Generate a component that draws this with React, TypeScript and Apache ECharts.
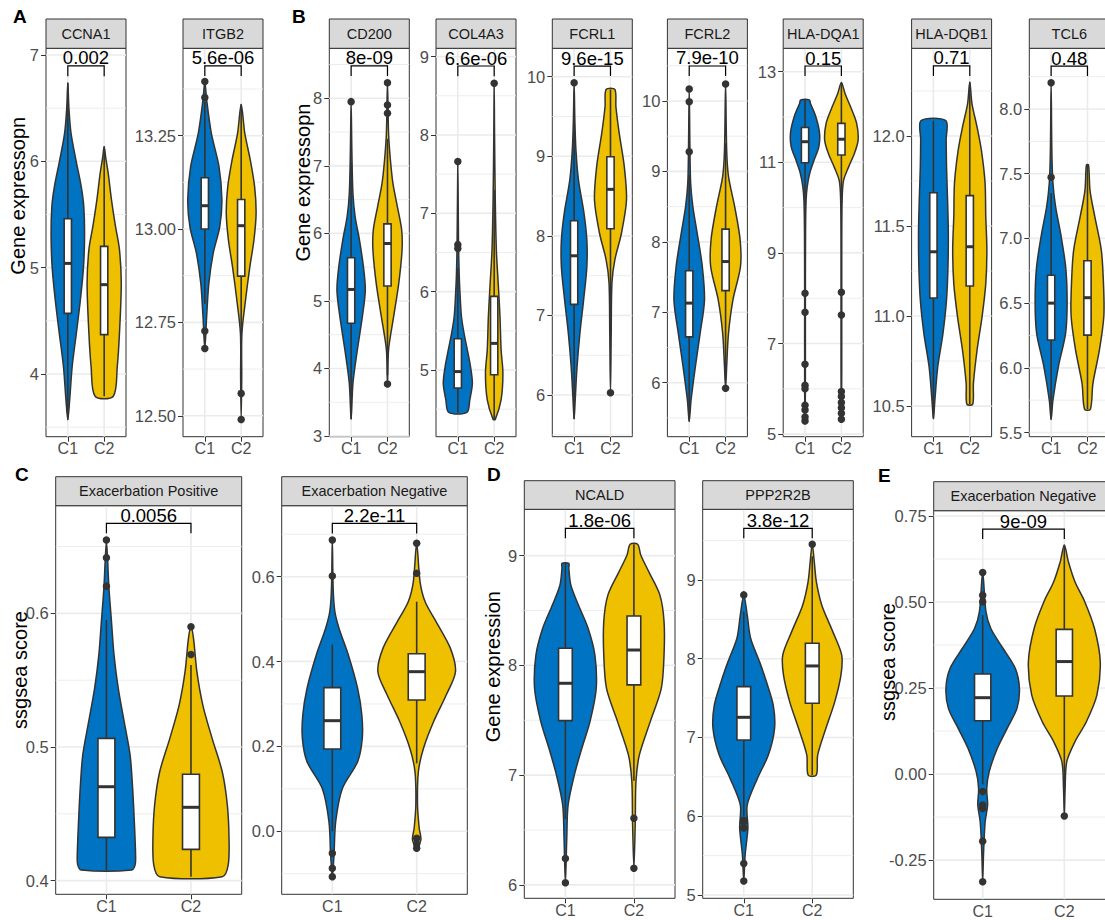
import React, { useEffect, useRef } from "react";
import * as echarts from "echarts";

const FONT = "'Liberation Sans', Arial, Helvetica, sans-serif";
const categories = ["C1", "C2"];
const groupColors = ["#0073C2", "#EFC000"];

const panelTitles = ["CCNA1", "ITGB2", "CD200", "COL4A3", "FCRL1", "FCRL2", "HLA-DQA1", "HLA-DQB1", "TCL6",
  "Exacerbation Positive", "Exacerbation Negative", "NCALD", "PPP2R2B", "Exacerbation Negative"];
const pLabels = ["0.002", "5.6e-06", "8e-09", "6.6e-06", "9.6e-15", "7.9e-10", "0.15", "0.71", "0.48",
  "0.0056", "2.2e-11", "1.8e-06", "3.8e-12", "9e-09"];
// [bracket level, tip end]
const bracketLevels = [[6.897, 6.8], [13.437, 13.41], [8.479, 8.33], [8.88, 8.75], [10.134, 10.01], [10.497, 10.355],
  [13.126, 12.905], [12.389, 12.333], [8.332, 8.255], [0.6673, 0.66], [0.7257, 0.702], [9.249, 9.158], [9.656, 9.529], [0.712, 0.683]];
const yRanges = [[3.41, 7.063], [12.444, 13.484], [2.99, 8.74], [4.149, 9.106], [5.477, 10.357], [5.233, 10.748],
  [4.943, 13.517], [10.33, 12.487], [5.468, 8.469], [0.3898, 0.6806], [-0.1486, 0.7673], [5.878, 9.422], [4.958, 9.897], [-0.364, 0.7655]];
const yTickLabels = [
  ["4", "5", "6", "7"], ["12.50", "12.75", "13.00", "13.25"], ["3", "4", "5", "6", "7", "8"], ["5", "6", "7", "8", "9"],
  ["6", "7", "8", "9", "10"], ["6", "7", "8", "9", "10"], ["5", "7", "9", "11", "13"], ["10.5", "11.0", "11.5", "12.0"],
  ["5.5", "6.0", "6.5", "7.0", "7.5", "8.0"], ["0.4", "0.5", "0.6"], ["0.0", "0.2", "0.4", "0.6"], ["6", "7", "8", "9"],
  ["5", "6", "7", "8", "9"], ["-0.25", "0.00", "0.25", "0.50", "0.75"]];

// box stats: [lower whisker, Q1, median, Q3, upper whisker]
const boxC1 = [[3.57, 4.57, 5.04, 5.46, 6.74], [12.8, 13.0, 13.0625, 13.1375, 13.34], [3.25, 4.67, 5.17, 5.64, 7.05],
  [4.46, 4.77, 4.98, 5.4, 6.3], [5.7, 7.14, 7.75, 8.19, 9.6], [5.45, 6.65, 7.13, 7.59, 8.95], [9.9, 10.99, 11.455, 11.77, 12.375],
  [10.43, 11.1, 11.357, 11.685, 12.085], [5.6, 6.215, 6.5, 6.715, 7.35], [0.408, 0.4324, 0.4703, 0.5065, 0.595],
  [0.0, 0.194, 0.2606, 0.3384, 0.44], [6.6, 7.497, 7.837, 8.156, 8.93], [6.0, 6.968, 7.256, 7.645, 8.6], [-0.03, 0.155, 0.222, 0.2907, 0.462]];
const boxC2 = [[3.79, 4.37, 4.84, 5.2, 6.14], [12.6, 12.874, 13.009, 13.079, 13.334], [3.9, 5.22, 5.85, 6.14, 7.4],
  [4.37, 4.94, 5.34, 5.94, 7.3], [6.8, 8.09, 8.585, 8.995, 9.84], [6.05, 7.307, 7.72, 8.18, 9.4], [10.1, 11.16, 11.51, 11.86, 12.76],
  [10.51, 11.167, 11.385, 11.669, 12.3], [5.68, 6.253, 6.542, 6.828, 7.567], [0.403, 0.4234, 0.4549, 0.4796, 0.5613],
  [0.16, 0.3093, 0.3761, 0.4185, 0.541], [6.95, 7.822, 8.14, 8.45, 9.103], [6.524, 7.434, 7.908, 8.196, 9.3], [-0.05, 0.227, 0.327, 0.4205, 0.666]];

const outliersC1 = [[], [13.395, 13.352, 12.727, 12.68], [7.95], [7.66, 6.6, 6.55], [9.925], [10.17, 9.99, 9.28],
  [8.11, 7.69, 6.54, 6.08, 6.0, 5.64, 5.53, 5.38, 5.29], [], [8.203, 7.472], [0.6549, 0.6416, 0.6204],
  [0.6864, 0.6016, -0.052, -0.087, -0.107], [6.24, 6.02], [8.81, 5.95, 5.93, 5.85, 5.4, 5.178],
  [0.586, 0.52, 0.501, -0.051, -0.09, -0.1, -0.195, -0.313]];
const outliersC2 = [[], [12.56, 12.49], [8.23, 7.9, 7.78, 3.77], [8.66], [6.03], [10.24, 5.92],
  [8.13, 7.63, 5.94, 5.83, 5.7, 5.58, 5.46, 5.33], [], [], [0.59, 0.5693], [0.6786, 0.6079, -0.0165, -0.03, -0.04],
  [6.607, 6.152], [9.453], [-0.122]];

// violin outlines: [value, half width in category units]
const violinC1 = [
  [[3.57, 0], [3.75, 0.05], [4.07, 0.12], [4.37, 0.23], [4.68, 0.34], [5.0, 0.43], [5.3, 0.46], [5.57, 0.44], [5.76, 0.37], [6.0, 0.23], [6.26, 0.09], [6.5, 0.03], [6.74, 0]],
  [[12.68, 0], [12.765, 0.05], [12.854, 0.11], [12.935, 0.23], [13.006, 0.41], [13.078, 0.47], [13.167, 0.39], [13.256, 0.18], [13.346, 0.05], [13.395, 0]],
  [[3.25, 0], [3.78, 0.05], [4.27, 0.17], [4.77, 0.31], [5.16, 0.39], [5.5, 0.34], [5.9, 0.23], [6.25, 0.11], [6.59, 0.05], [7.23, 0.02], [7.95, 0]],
  [[4.46, 0.25], [4.62, 0.33], [4.83, 0.4], [5.04, 0.35], [5.26, 0.26], [5.47, 0.17], [5.68, 0.1], [5.89, 0.07], [6.19, 0.04], [6.6, 0.02], [7.66, 0]],
  [[5.7, 0], [5.94, 0.03], [6.35, 0.08], [6.78, 0.16], [7.19, 0.26], [7.61, 0.35], [7.95, 0.35], [8.29, 0.27], [8.7, 0.12], [9.08, 0.05], [9.46, 0.02], [9.925, 0]],
  [[5.45, 0], [5.75, 0.05], [6.23, 0.17], [6.7, 0.3], [7.17, 0.42], [7.65, 0.36], [8.12, 0.22], [8.5, 0.1], [8.83, 0.04], [9.3, 0.02], [10.17, 0]],
  [[5.29, 0], [6.0, 0.01], [8.0, 0.01], [9.5, 0.015], [10.17, 0.03], [10.46, 0.06], [10.76, 0.13], [11.05, 0.25], [11.34, 0.38], [11.64, 0.4], [12.0, 0.3], [12.3, 0.15], [12.375, 0.12]],
  [[10.43, 0], [10.533, 0.04], [10.72, 0.12], [10.9, 0.26], [11.09, 0.36], [11.27, 0.4], [11.46, 0.41], [11.64, 0.39], [11.83, 0.36], [11.98, 0.35], [12.085, 0.34]],
  [[5.6, 0], [5.75, 0.05], [6.01, 0.2], [6.27, 0.4], [6.52, 0.44], [6.78, 0.4], [7.04, 0.26], [7.25, 0.12], [7.43, 0.05], [7.68, 0.02], [8.2, 0]],
  [[0.408, 0.3], [0.412, 0.34], [0.4192, 0.345], [0.4441, 0.33], [0.4691, 0.31], [0.494, 0.28], [0.519, 0.21], [0.5439, 0.14], [0.5688, 0.09], [0.5938, 0.06], [0.6187, 0.03], [0.654, 0]],
  [[-0.107, 0], [-0.056, 0.02], [0.0228, 0.04], [0.1012, 0.12], [0.164, 0.3], [0.219, 0.355], [0.274, 0.35], [0.3368, 0.3], [0.4154, 0.19], [0.478, 0.08], [0.5175, 0.03], [0.5725, 0.01], [0.687, 0]],
  [[6.02, 0], [6.425, 0.02], [6.73, 0.04], [7.0, 0.13], [7.245, 0.24], [7.49, 0.36], [7.79, 0.45], [8.095, 0.43], [8.34, 0.33], [8.55, 0.19], [8.73, 0.08], [8.885, 0.05], [8.93, 0.05]],
  [[5.18, 0], [5.51, 0.02], [5.85, 0.06], [6.14, 0.05], [6.48, 0.2], [6.78, 0.36], [7.116, 0.45], [7.413, 0.43], [7.71, 0.33], [7.963, 0.23], [8.26, 0.1], [8.556, 0.05], [8.81, 0]],
  [[-0.313, 0], [-0.235, 0.01], [-0.139, 0.03], [-0.09, 0.06], [-0.042, 0.05], [0.007, 0.08], [0.075, 0.18], [0.133, 0.3], [0.191, 0.42], [0.25, 0.45], [0.307, 0.4], [0.365, 0.25], [0.423, 0.1], [0.472, 0.04], [0.586, 0]],
];
const violinC2 = [
  [[3.79, 0.25], [4.07, 0.36], [4.38, 0.42], [4.85, 0.47], [5.17, 0.42], [5.39, 0.31], [5.64, 0.2], [5.89, 0.11], [6.04, 0.04], [6.14, 0]],
  [[12.49, 0], [12.6, 0.015], [12.72, 0.02], [12.81, 0.12], [12.9, 0.24], [12.97, 0.35], [13.042, 0.41], [13.113, 0.37], [13.185, 0.25], [13.256, 0.1], [13.334, 0]],
  [[3.77, 0], [4.28, 0.03], [4.77, 0.17], [5.26, 0.31], [5.75, 0.4], [6.05, 0.39], [6.4, 0.27], [6.74, 0.15], [7.09, 0.08], [7.48, 0.03], [8.23, 0]],
  [[4.37, 0.03], [4.62, 0.19], [4.96, 0.24], [5.26, 0.19], [5.68, 0.16], [6.11, 0.11], [6.53, 0.06], [7.17, 0.03], [8.02, 0.01], [8.66, 0]],
  [[6.03, 0], [6.78, 0.02], [7.41, 0.04], [7.7, 0.12], [8.03, 0.3], [8.45, 0.44], [8.87, 0.38], [9.29, 0.24], [9.62, 0.15], [9.84, 0.12]],
  [[5.92, 0], [6.23, 0.03], [6.7, 0.08], [7.17, 0.2], [7.65, 0.41], [8.03, 0.4], [8.5, 0.25], [8.93, 0.08], [9.3, 0.03], [10.24, 0]],
  [[5.33, 0], [6.5, 0.01], [9.0, 0.01], [10.17, 0.02], [10.6, 0.06], [10.9, 0.2], [11.2, 0.36], [11.49, 0.46], [11.86, 0.42], [12.23, 0.25], [12.52, 0.1], [12.76, 0]],
  [[10.51, 0.08], [10.626, 0.1], [10.81, 0.2], [11.0, 0.34], [11.18, 0.44], [11.37, 0.47], [11.55, 0.44], [11.74, 0.42], [11.92, 0.32], [12.05, 0.2], [12.18, 0.06], [12.3, 0]],
  [[5.68, 0.08], [5.88, 0.15], [6.14, 0.33], [6.4, 0.45], [6.65, 0.44], [6.91, 0.38], [7.17, 0.2], [7.37, 0.07], [7.567, 0.03]],
  [[0.403, 0.37], [0.4117, 0.44], [0.4317, 0.45], [0.4566, 0.43], [0.4815, 0.37], [0.5065, 0.25], [0.5314, 0.14], [0.5564, 0.07], [0.5813, 0.03], [0.59, 0]],
  [[-0.04, 0], [-0.02, 0.05], [0.007, 0.03], [0.062, 0.01], [0.14, 0.02], [0.195, 0.08], [0.258, 0.2], [0.321, 0.35], [0.376, 0.46], [0.431, 0.4], [0.494, 0.23], [0.541, 0.1], [0.588, 0.04], [0.678, 0]],
  [[6.15, 0], [6.577, 0.02], [6.94, 0.03], [7.184, 0.08], [7.49, 0.24], [7.79, 0.4], [8.095, 0.44], [8.4, 0.44], [8.64, 0.38], [8.85, 0.22], [9.006, 0.1], [9.103, 0.055]],
  [[6.524, 0.06], [6.778, 0.08], [7.116, 0.2], [7.455, 0.33], [7.794, 0.42], [8.048, 0.43], [8.344, 0.3], [8.68, 0.14], [8.98, 0.06], [9.23, 0.03], [9.453, 0]],
  [[-0.122, 0], [-0.042, 0.01], [0.036, 0.03], [0.094, 0.13], [0.152, 0.27], [0.23, 0.4], [0.327, 0.44], [0.423, 0.37], [0.501, 0.25], [0.559, 0.13], [0.617, 0.05], [0.666, 0]],
];

// layout (pixels): left, top, width, height, strip top
const layout = [
  [46, 48.3, 80, 388.4, 19], [183, 48.3, 80, 388.4, 19], [329.3, 48.3, 80, 388.4, 19], [436, 48.3, 80, 388.4, 19],
  [552.3, 48.3, 80, 388.4, 19], [667.4, 48.3, 80, 388.4, 19], [783.2, 48.3, 80, 388.4, 19], [911.6, 48.3, 80, 388.4, 19],
  [1029.3, 48.3, 80, 388.4, 19], [55.7, 505.7, 186, 388.6, 476.7], [281.7, 505.7, 185.6, 388.6, 476.7],
  [524.3, 509.3, 150.7, 389, 480.7], [702.7, 509.3, 150.6, 389, 480.7], [933.7, 510.7, 179.6, 388.6, 481.7],
];
const panelLetters = [["A", 13, 16.5], ["B", 292, 16.5], ["C", 15, 474.5], ["D", 487, 474.5], ["E", 878, 475.5]];
const yTitles = [["Gene expressopn", 18.3, 195.7], ["Gene expressopn", 303.3, 182.5], ["ssgsea score", 20, 670],
  ["Gene expression", 493.3, 666.7], ["ssgsea score", 888.3, 662]];

const LINE = "#333333";

function buildOption() {
  const grids: any[] = [];
  const xAxes: any[] = [];
  const yAxes: any[] = [];
  const series: any[] = [];
  const graphics: any[] = [];

  panelTitles.forEach((title, p) => {
    const [left, top, width, height, stripTop] = layout[p];
    const ticks = yTickLabels[p].map(Number);
    const [ymin, ymax] = yRanges[p];
    grids.push({ left, top, width, height, show: true, backgroundColor: "#fff", borderColor: LINE, borderWidth: 1, containLabel: false, outerBoundsMode: "none" });
    xAxes.push({
      gridIndex: p, type: "value", min: 0.4, max: 2.6,
      axisLine: { show: false }, splitLine: { show: false },
      axisTick: { show: true, customValues: [1, 2], length: 5, lineStyle: { color: LINE, width: 1 } },
      axisLabel: { customValues: [1, 2], formatter: (v: number) => categories[Math.round(v) - 1] ?? "", color: "#4D4D4D", fontSize: 16, lineHeight: 16, fontFamily: FONT, margin: 4 },
    });
    yAxes.push({
      gridIndex: p, type: "value", min: ymin, max: ymax,
      axisLine: { show: false }, splitLine: { show: false },
      axisTick: { show: true, customValues: ticks, length: 5, lineStyle: { color: LINE, width: 1 } },
      axisLabel: {
        customValues: ticks, color: "#4D4D4D", fontSize: 16.5, fontFamily: FONT, margin: 7,
        formatter: (v: number) => { const i = ticks.findIndex((t) => Math.abs(t - v) < 1e-9); return i >= 0 ? yTickLabels[p][i] : ""; },
      },
    });

    // grid lines (major, minor, vertical)
    const step = ticks[1] - ticks[0];
    const minors = [ticks[0] - step / 2, ...ticks.map((t) => t + step / 2)].filter((v) => v > ymin && v < ymax);
    const gridData = [...ticks.map((t) => [0, t]), ...minors.map((t) => [1, t]), [2, 1], [2, 2]];
    series.push({
      type: "custom", xAxisIndex: p, yAxisIndex: p, z: 1, silent: true, data: gridData,
      renderItem: (params: any, api: any) => {
        const cs = params.coordSys;
        const kind = api.value(0);
        const v = api.value(1);
        if (kind === 2) {
          const pt = api.coord([v, ymin]);
          return { type: "line", shape: { x1: pt[0], y1: cs.y, x2: pt[0], y2: cs.y + cs.height }, style: { stroke: "#EBEBEB", lineWidth: 1.6 } };
        }
        const pt = api.coord([1, v]);
        return { type: "line", shape: { x1: cs.x, y1: pt[1], x2: cs.x + cs.width, y2: pt[1] }, style: { stroke: "#EBEBEB", lineWidth: kind === 0 ? 1.6 : 0.9 } };
      },
    });

    // violins
    series.push({
      type: "custom", xAxisIndex: p, yAxisIndex: p, z: 2, silent: true, data: [[1, 0], [2, 1]],
      renderItem: (params: any, api: any) => {
        const g = params.dataIndex;
        const prof = g === 0 ? violinC1[p] : violinC2[p];
        const cx = g + 1;
        const pts: number[][] = [];
        prof.forEach(([y, w]) => pts.push(api.coord([cx + w, y])));
        prof.slice().reverse().forEach(([y, w]) => pts.push(api.coord([cx - w, y])));
        const clean: number[][] = [];
        pts.forEach((pt) => {
          const last = clean[clean.length - 1];
          if (!last || Math.hypot(last[0] - pt[0], last[1] - pt[1]) > 0.05) clean.push(pt);
        });
        if (clean.length > 2) {
          const f = clean[0], l = clean[clean.length - 1];
          if (Math.hypot(f[0] - l[0], f[1] - l[1]) < 0.05) clean.pop();
        }
        return { type: "polygon", shape: { points: clean, smooth: 0.3 }, style: { fill: groupColors[g], stroke: LINE, lineWidth: 1.5 } };
      },
    });

    // boxes
    series.push({
      type: "custom", xAxisIndex: p, yAxisIndex: p, z: 3, silent: true, data: [[1, 0], [2, 1]],
      renderItem: (params: any, api: any) => {
        const g = params.dataIndex;
        const s = g === 0 ? boxC1[p] : boxC2[p];
        const cx = g + 1;
        const hw = 0.1;
        const lo = api.coord([cx, s[0]]);
        const hi = api.coord([cx, s[4]]);
        const a = api.coord([cx - hw, s[3]]);
        const b = api.coord([cx + hw, s[1]]);
        const m1 = api.coord([cx - hw, s[2]]);
        const m2 = api.coord([cx + hw, s[2]]);
        return {
          type: "group",
          children: [
            { type: "line", shape: { x1: lo[0], y1: lo[1], x2: hi[0], y2: hi[1] }, style: { stroke: LINE, lineWidth: 1.6 } },
            { type: "rect", shape: { x: a[0], y: a[1], width: b[0] - a[0], height: b[1] - a[1] }, style: { fill: "#fff", stroke: LINE, lineWidth: 1.6 } },
            { type: "line", shape: { x1: m1[0], y1: m1[1], x2: m2[0], y2: m2[1] }, style: { stroke: LINE, lineWidth: 3 } },
          ],
        };
      },
    });

    // outliers
    [outliersC1[p], outliersC2[p]].forEach((arr, g) => {
      series.push({
        type: "scatter", xAxisIndex: p, yAxisIndex: p, z: 4, silent: true, symbol: "circle", symbolSize: 7.5,
        itemStyle: { color: LINE, opacity: 1 }, data: arr.map((v) => [g + 1, v]),
      });
    });

    // significance bracket
    series.push({
      type: "custom", xAxisIndex: p, yAxisIndex: p, z: 5, silent: true, clip: false, data: [[1.5, bracketLevels[p][0]]],
      renderItem: (params: any, api: any) => {
        const [yb, yt] = bracketLevels[p];
        const p1 = api.coord([1, yt]);
        const p2 = api.coord([1, yb]);
        const p3 = api.coord([2, yb]);
        const p4 = api.coord([2, yt]);
        const mid = api.coord([1.5, yb]);
        return {
          type: "group",
          children: [
            { type: "polyline", shape: { points: [p1, p2, p3, p4] }, style: { stroke: "#000", lineWidth: 1.2, fill: null } },
            { type: "text", x: mid[0], y: mid[1] - 8, style: { text: pLabels[p], fill: "#000", fontSize: 18.5, fontFamily: FONT, align: "center", verticalAlign: "middle" } },
          ],
        };
      },
    });

    // strip
    graphics.push({
      type: "rect", z: 10, shape: { x: left, y: stripTop, width, height: top - stripTop },
      style: { fill: "#D9D9D9", stroke: LINE, lineWidth: 1 },
    });
    graphics.push({
      type: "text", z: 11, x: left + width / 2, y: (stripTop + top) / 2,
      style: { text: title, fill: "#1A1A1A", fontSize: 14.5, fontFamily: FONT, align: "center", verticalAlign: "middle" },
    });
  });

  panelLetters.forEach(([t, x, y]) => {
    graphics.push({ type: "text", z: 11, x, y, style: { text: t, fill: "#000", fontSize: 19, fontWeight: "bold", fontFamily: FONT, align: "left", verticalAlign: "middle" } });
  });
  yTitles.forEach(([t, x, y]) => {
    graphics.push({ type: "text", z: 11, x, y, rotation: Math.PI / 2, style: { text: t, fill: "#000", fontSize: 20, fontFamily: FONT, align: "center", verticalAlign: "middle" } });
  });

  return {
    animation: false,
    backgroundColor: "#fff",
    grid: grids,
    xAxis: xAxes,
    yAxis: yAxes,
    series,
    graphic: { elements: graphics },
  };
}

export default function App() {
  const ref = useRef<HTMLDivElement>(null);
  useEffect(() => {
    if (!ref.current) return;
    const chart = echarts.init(ref.current, undefined, { renderer: "svg" });
    chart.setOption(buildOption() as any);
    return () => chart.dispose();
  }, []);
  return <div ref={ref} style={{ position: "absolute", left: 0, top: 0, width: 1105, height: 920 }} />;
}
